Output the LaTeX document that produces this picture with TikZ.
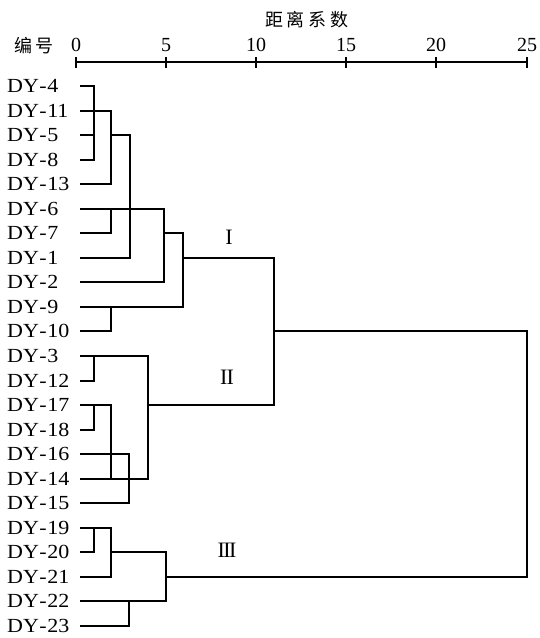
\documentclass[tikz,border=0pt]{standalone}
\usepackage{fontspec}
\setmainfont{Liberation Serif}
\newfontfamily\leaffont[FakeStretch=1.1]{Liberation Serif}
\newfontfamily\cjk{Noto Sans CJK SC}
\begin{document}
\begin{tikzpicture}[x=1pt,y=-1pt,
  dline/.style={line width=2pt,line join=miter,line cap=butt},
  leaf/.style={anchor=west,inner sep=0pt,font=\leaffont\fontsize{20}{20}\selectfont,text height=13pt,text depth=0pt},
  ticklab/.style={inner sep=0pt,font=\fontsize{20}{20}\selectfont},
  roman/.style={inner sep=0pt,font=\fontsize{22}{22}\selectfont},
  cjklab/.style={inner sep=0pt,font=\cjk\fontsize{18}{18}\selectfont}]
\useasboundingbox (0,0) rectangle (539,638);
% x positions
\foreach \n/\x in {0/76,5/166,10/256,15/346,20/436,25/527}{
  \coordinate (t\n) at (\x,62);
}
\foreach \n/\x in {80/80,94/94,111/111,129/129,130/130,148/148,164/164,166/166,183/183,274/274,527/527}{
  \coordinate (c\n) at (\x,0);
}
% axis
\draw[dline] (t0) -- (t25);
\foreach \n in {0,5,10,15,20,25}{
  \draw[dline] ([yshift=5]t\n) -- ([yshift=-6]t\n);
  \node[ticklab] (lab\n) at ([yshift=17]t\n) {\n};
}
\node[cjklab] (bianhao) at (34,46) {编\hspace{4pt}号};
\node[cjklab] (juli) at (307,20) {距\hspace{4pt}离\hspace{4pt}系\hspace{4pt}数};
% leaves
\foreach \i/\n in {0/4,1/11,2/5,3/8,4/13,5/6,6/7,7/1,8/2,9/9,10/10,11/3,12/12,13/17,14/18,15/16,16/14,17/15,18/19,19/20,20/21,21/22,22/23}{
  \pgfmathsetmacro\yy{round(86+24.545*\i)}
  \coordinate (s\n) at (80,\yy);
  \node[leaf] (L\n) at (7,\yy) {DY\kern0.5pt-\kern0.5pt\n};
}
% cluster I
\draw[dline] (s4) -- (s4-|c94) -- (s8-|c94) -- (s8);
\draw[dline] (s5) -- (s5-|c94);
\draw[dline] (s11) -- (s11-|c111) -- (s13-|c111) -- (s13);
\draw[dline] (s5-|c111) -- (s5-|c130) -- (s1-|c130) -- (s1);
\draw[dline] (s6) -- (s6-|c164) -- (s2-|c164) -- (s2);
\draw[dline] (s6-|c111) -- (s7-|c111) -- (s7);
\draw[dline] (s7-|c164) -- (s7-|c183) -- (s9-|c183) -- (s9);
\draw[dline] (s9-|c111) -- (s10-|c111) -- (s10);
\draw[dline] (s1-|c183) -- (s1-|c274) -- (s17-|c274) -- (s17-|c148);
\draw[dline] (s10-|c274) -- (s10-|c527) -- (s21-|c527) -- (s21-|c166);
% cluster II
\draw[dline] (s3) -- (s3-|c148) -- (s14-|c148) -- (s14);
\draw[dline] (s3-|c94) -- (s12-|c94) -- (s12);
\draw[dline] (s17) -- (s17-|c111) -- (s14-|c111);
\draw[dline] (s17-|c94) -- (s18-|c94) -- (s18);
\draw[dline] (s16) -- (s16-|c129) -- (s15-|c129) -- (s15);
% cluster III
\draw[dline] (s19) -- (s19-|c111) -- (s21-|c111) -- (s21);
\draw[dline] (s19-|c94) -- (s20-|c94) -- (s20);
\draw[dline] (s20-|c111) -- (s20-|c166) -- (s22-|c166) -- (s22);
\draw[dline] (s22-|c129) -- (s23-|c129) -- (s23);
% group labels
\node[roman] (gI) at (229,237) {I};
\node[roman] (gII) at (227,377) {I\kern-1pt I};
\node[roman] (gIII) at (227,550) {I\kern-1.5pt I\kern-1.5pt I};
\end{tikzpicture}
\end{document}
